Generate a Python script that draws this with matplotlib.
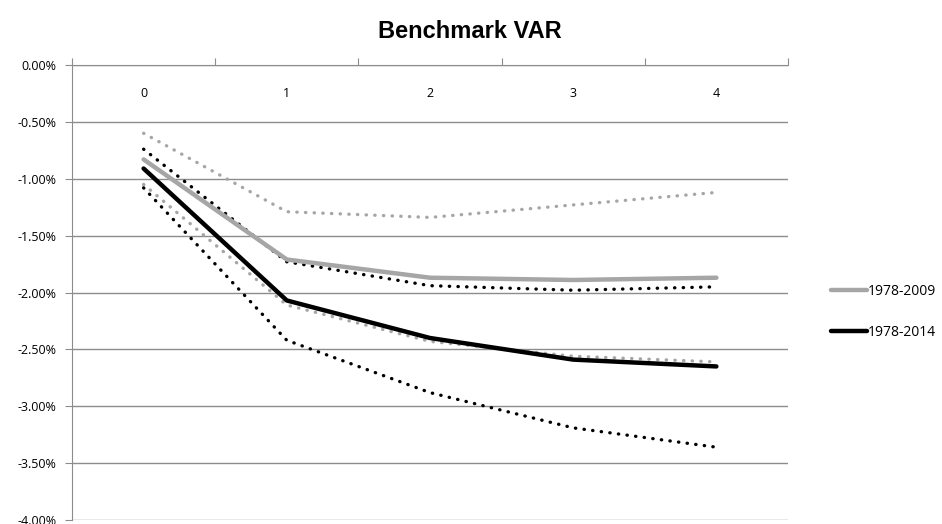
import numpy as np
import matplotlib.pyplot as plt
from matplotlib.ticker import FuncFormatter, FixedLocator

horizon = [0, 1, 2, 3, 4]

# point estimates (percent)
var_2009 = [-0.83, -1.71, -1.87, -1.89, -1.87]
var_2014 = [-0.91, -2.07, -2.40, -2.59, -2.65]

# confidence bands (percent)
upper_2009 = [-0.60, -1.29, -1.34, -1.23, -1.12]
lower_2009 = [-1.05, -2.11, -2.43, -2.56, -2.61]
upper_2014 = [-0.74, -1.73, -1.94, -1.98, -1.95]
lower_2014 = [-1.08, -2.42, -2.88, -3.19, -3.36]

grey = '#a6a6a6'
plt.rcParams['font.family'] = ['Open Sans', 'DejaVu Sans']

fig = plt.figure(figsize=(9.42, 5.24), dpi=100)
ax = fig.add_axes([72/942, 1 - 520/524, (788-72)/942, (520-65)/524])

dot = (0, (0.1, 2.5))
ax.plot(horizon, upper_2009, color=grey, lw=2.4, ls=dot, dash_capstyle='round')
ax.plot(horizon, lower_2009, color=grey, lw=2.4, ls=dot, dash_capstyle='round')
ax.plot(horizon, upper_2014, color='black', lw=2.4, ls=dot, dash_capstyle='round')
ax.plot(horizon, lower_2014, color='black', lw=2.4, ls=dot, dash_capstyle='round')
ax.plot(horizon, var_2009, color=grey, lw=3.2, label='1978-2009', solid_capstyle='round')
ax.plot(horizon, var_2014, color='black', lw=3.2, label='1978-2014', solid_capstyle='round')

ax.set_xlim(-0.5, 4.5)
ax.set_ylim(-4.0, 0.0)
ax.set_yticks(np.arange(-4.0, 0.01, 0.5))
ax.yaxis.set_major_formatter(FuncFormatter(lambda v, p: '%.2f%%' % v))
ax.grid(axis='y', color='#8c8c8c', lw=1)
ax.set_axisbelow(True)

# category axis sits on top (the 0 line)
ax.xaxis.set_ticks_position('top')
ax.xaxis.set_major_locator(FixedLocator(np.arange(-0.5, 4.6, 1.0)))
ax.xaxis.set_minor_locator(FixedLocator(horizon))
ax.xaxis.set_major_formatter(FuncFormatter(lambda v, p: ''))
ax.xaxis.set_minor_formatter(FuncFormatter(lambda v, p: '%d' % v))
ax.tick_params(axis='x', which='major', direction='out', length=5, color='#8c8c8c')
ax.tick_params(axis='x', which='minor', length=0, labeltop=True, labelbottom=False,
               pad=-25, labelsize=9)
ax.tick_params(axis='y', direction='out', length=5, color='#8c8c8c', labelsize=9, pad=6)

for s in ['right', 'bottom']:
    ax.spines[s].set_visible(False)
for s in ['left', 'top']:
    ax.spines[s].set_color('#8c8c8c')

fig.text(470/942, 1 - 32/524, 'Benchmark VAR', ha='center', va='center',
         fontsize=17, fontweight='bold', family=['Liberation Sans', 'DejaVu Sans'])

fig.legend(loc='center left', bbox_to_anchor=(818/942, 1 - 312/524), frameon=False,
           fontsize=10, handlelength=2.6, handletextpad=0.05, labelspacing=1.9)

fig.savefig('out.png', dpi=100)
